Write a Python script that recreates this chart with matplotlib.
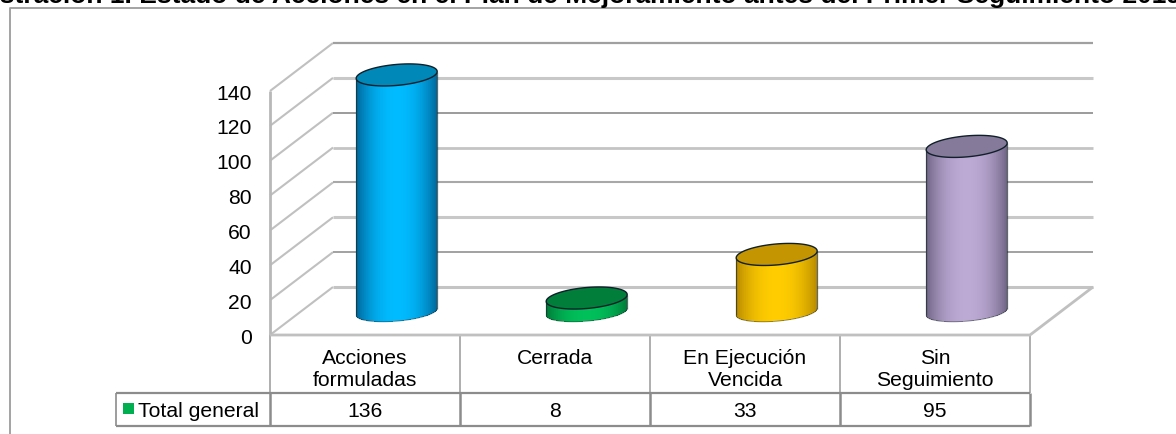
import matplotlib
matplotlib.use("Agg")
import matplotlib.pyplot as plt
import numpy as np

plt.rcParams['font.family'] = ['Liberation Sans', 'DejaVu Sans']
plt.rcParams['lines.solid_capstyle'] = 'butt'

W, H = 1176, 435

categories = ["Acciones\nformuladas", "Cerrada", "En Ejecución\nVencida", "Sin\nSeguimiento"]
values = [136, 8, 33, 95]
series_name = "Total general"
y_ticks = [0, 20, 40, 60, 80, 100, 120, 140]
title = "Ilustración 1. Estado de Acciones en el Plan de Mejoramiento antes del Primer Seguimiento 2019"

side_colors = ["#00669A", "#007A38", "#B88A00", "#6F6485"]
mid_colors = ["#00BBFF", "#00C05A", "#FFCC00", "#BCA9D4"]
top_colors = ["#0088B8", "#007E3A", "#C49500", "#857A9A"]

# the gridlines of the reference alternate between soft and sharp
grid_colors = ["#c4c4c4", "#9a9a9a", "#c8c8c8", "#a8a8a8", "#c4c4c4", "#8a8a8a", "#c8c8c8", "#a0a0a0"]
grid_widths = [2.2, 1.3, 2.2, 1.5, 2.0, 1.2, 2.2, 1.6]

# layout in pixels of the reference
LEFT, RIGHT = 270, 1030
Y0, Y140 = 336, 92
DEPTH_X, DEPTH_Y = 63, 48
FONT = 15.2


def blend(c1, c2, f):
    a = np.array(matplotlib.colors.to_rgb(c1))
    b = np.array(matplotlib.colors.to_rgb(c2))
    return a + (b - a) * f


fig = plt.figure(figsize=(W / 100, H / 100), dpi=100)
bg = fig.add_axes([0, 0, 1, 1])
bg.set_xlim(0, W)
bg.set_ylim(H, 0)
bg.axis("off")

# main axes: x in categories, y in chart units, the 3d look is added by offsets
ax = fig.add_axes([LEFT / W, 1 - Y0 / H, (RIGHT - LEFT) / W, (Y0 - Y140) / H])
ax.set_xlim(0, len(categories))
ax.set_ylim(0, 140)
ax.axis("off")

x_per_px = len(categories) / (RIGHT - LEFT)
y_per_px = 140 / (Y0 - Y140)
dx = DEPTH_X * x_per_px
dy = DEPTH_Y * y_per_px
n = len(categories)

# outer frame, open at the bottom and the right
bg.plot([9.5, 9.5, W], [H, 8.5, 8.5], color="#9c9c9c", lw=1.3)

# walls and floor
for k, v in enumerate(y_ticks):
    ax.plot([0, dx], [v, v + dy], color="#c0c0c0", lw=1.5, clip_on=False)
    ax.plot([dx, n + dx], [v + dy, v + dy], color=grid_colors[k], lw=grid_widths[k], clip_on=False)
ax.plot([0, 0], [0, 140], color="#b8b8b8", lw=2, clip_on=False)
ax.plot([0, n, n + dx], [0, 0, dy], color="#c0c0c0", lw=2, clip_on=False)

# cylinders
half_w = 40.5 * x_per_px
half_h = 10.5 * y_per_px
tilt = 3.4 * y_per_px / half_w
t = np.linspace(0, 2 * np.pi, 120)
us = np.linspace(-1, 1, 121)

for i, v in enumerate(values):
    cx = i + 0.5 + dx * 0.5 + 0.001
    base = dy * 0.48
    off = us * half_w * tilt
    low = base + off - 0.88 * half_h * np.sqrt(1 - us ** 2)
    high = base + v + off
    mid_u = (us[:-1] + us[1:]) / 2
    shades = np.array([blend(side_colors[i], mid_colors[i], 1 - abs(u) ** 2.2) for u in mid_u])
    xx = np.vstack([cx + us * half_w, cx + us * half_w])
    yy = np.vstack([low, high])
    ax.pcolormesh(xx, yy, shades[np.newaxis, :, :], shading="flat", clip_on=False, zorder=3)
    ax.plot(cx + us * half_w, low, color="#1c2a2a", lw=0.6, alpha=0.55, clip_on=False, zorder=4)
    for s in (-1, 1):
        ax.plot([cx + s * half_w] * 2, [base + s * half_w * tilt, base + v + s * half_w * tilt],
                color="#1c2a2a", lw=0.9, alpha=0.7, clip_on=False, zorder=4)
    ex = cx + half_w * np.cos(t)
    ey = base + v + half_w * np.cos(t) * tilt + half_h * np.sin(t)
    ax.fill(ex, ey, facecolor=top_colors[i], edgecolor="#10202a", lw=1.0, clip_on=False, zorder=5)

# value axis labels
for v in y_ticks:
    ax.text(-0.095, v - 1.2, str(v), ha="right", va="center", fontsize=FONT, color="black", clip_on=False)

# data table
TABLE_MID, TABLE_BOT = 393.5, 426.5
LEGEND_LEFT = 115.5
col_w = (RIGHT - LEFT) / n
table_color = "#8c8c8c"
for i in range(n + 1):
    xp = LEFT + i * col_w
    bg.plot([xp, xp], [Y0, TABLE_MID], color="#a8a8a8", lw=1.3)
    bg.plot([xp, xp], [TABLE_MID, TABLE_BOT], color=table_color, lw=1.8)
bg.plot([LEGEND_LEFT, RIGHT], [TABLE_MID, TABLE_MID], color=table_color, lw=1.6)
bg.plot([LEGEND_LEFT, RIGHT], [TABLE_BOT, TABLE_BOT], color=table_color, lw=1.6)
bg.plot([LEGEND_LEFT, LEGEND_LEFT], [TABLE_MID, TABLE_BOT], color=table_color, lw=1.2)

for i, (c, v) in enumerate(zip(categories, values)):
    xp = LEFT + (i + 0.5) * col_w
    bg.text(xp, 349, c, ha="center", va="top", fontsize=FONT, linespacing=1.2, color="black", zorder=1)
    bg.text(xp, 411.5, str(v), ha="center", va="center", fontsize=FONT, color="black")

bg.add_patch(plt.Rectangle((123, 404), 11, 11, facecolor="#00B050", edgecolor="none"))
bg.text(138.5, 411.5, series_name, ha="left", va="center", fontsize=FONT, color="black")

# title is cut by the top of the picture, as in the reference
bg.text(575, 3.5, title, ha="center", va="baseline", fontsize=19, fontweight="bold", color="black")

fig.savefig("out.png", dpi=100)
